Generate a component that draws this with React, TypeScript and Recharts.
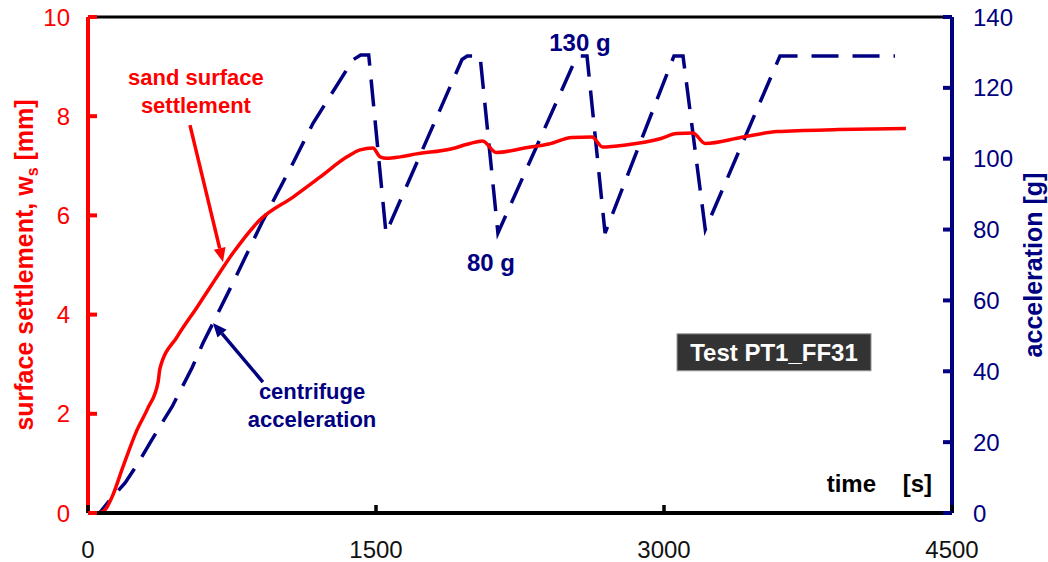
import React from "react";
import { LineChart, Line, XAxis, YAxis, ReferenceLine, ReferenceDot } from "recharts";

const RED = "#ff0000";
const NAVY = "#000080";
const FONT = "'Liberation Sans', Arial, Helvetica, sans-serif";

// axis ticks
const timeTicks = [0, 1500, 3000, 4500];
const settlementTicks = [0, 2, 4, 6, 8, 10];
const accelTicks = [0, 20, 40, 60, 80, 100, 120, 140];

// sand surface settlement, w_s [mm] vs time [s]
const settlementTime = [
  0, 60, 88, 125, 182, 255, 310, 365, 375, 464, 568, 661, 755, 896, 1068, 1208, 1349, 1417,
  1484, 1521, 1557, 1625, 1710, 1890, 1990, 2055, 2125, 2290, 2400, 2520, 2625, 2680, 2800,
  2985, 3065, 3150, 3215, 3400, 3590, 3910, 4260,
];
const settlementMm = [
  0, 0.01, 0.06, 0.32, 0.93, 1.67, 2.1, 2.64, 2.92, 3.55, 4.15, 4.7, 5.24, 5.91, 6.37, 6.77, 7.18, 7.32,
  7.36, 7.18, 7.15, 7.18, 7.24, 7.34, 7.45, 7.5, 7.27, 7.37, 7.44, 7.57, 7.58, 7.38, 7.42,
  7.55, 7.65, 7.66, 7.45, 7.57, 7.69, 7.73, 7.75,
];

// centrifuge acceleration [g] vs time [s]
const accelTime = [
  0, 60, 115, 193, 260, 323, 385, 438, 542, 599, 651, 750, 906, 1068, 1172, 1380, 1420, 1462,
  1552, 1948, 1975, 2042, 2135, 2542, 2560, 2599, 2693, 3052, 3099, 3215, 3604, 4203,
];
const accelG = [
  0, 0, 3.7, 8.5, 14, 19.8, 25.4, 30, 41, 48, 53.6, 64.4, 82, 98.8, 110, 127.9, 129.3, 129.3,
  79, 128, 129, 129, 79, 128.4, 129, 129, 79, 129, 129, 80, 129, 129,
];

const settlementData = settlementTime.map((t, i) => ({ t, w: settlementMm[i] }));
const accelData = accelTime.map((t, i) => ({ t, g: accelG[i] }));

function TimeTick(props: any) {
  const { x, y, payload } = props;
  return (
    <g>
      <line x1={x} x2={x} y1={y} y2={y - 8} stroke="#000" strokeWidth={3.5} />
      <text x={x} y={y + 45} textAnchor="middle" fontSize={24} fill="#111" fontFamily={FONT}>
        {payload.value}
      </text>
    </g>
  );
}

function LeftTick(props: any) {
  const { x, y, payload } = props;
  return (
    <g>
      <line x1={x} x2={x + 9} y1={y} y2={y} stroke={RED} strokeWidth={4} />
      <text x={x - 18} y={y + 8.5} textAnchor="end" fontSize={24} fill={RED} fontFamily={FONT}>
        {payload.value}
      </text>
    </g>
  );
}

function RightTick(props: any) {
  const { x, y, payload } = props;
  return (
    <g>
      <line x1={x} x2={x - 9} y1={y} y2={y} stroke={NAVY} strokeWidth={4} />
      <text x={x + 21} y={y + 8.5} textAnchor="start" fontSize={24} fill={NAVY} fontFamily={FONT}>
        {payload.value}
      </text>
    </g>
  );
}

function LeftTitle(props: any) {
  const vb = props.viewBox;
  const x = vb.x + vb.width - 55;
  const y = vb.y + vb.height / 2;
  return (
    <text
      transform={`translate(${x},${y}) rotate(-90)`}
      textAnchor="middle"
      fontSize={25}
      fontWeight="bold"
      fill={RED}
      fontFamily={FONT}
    >
      surface settlement, w
      <tspan fontSize={16} dy={5}>s</tspan>
      <tspan dy={-5}> [mm]</tspan>
    </text>
  );
}

function RightTitle(props: any) {
  const vb = props.viewBox;
  const x = vb.x + 90;
  const y = vb.y + vb.height / 2;
  return (
    <text
      transform={`translate(${x},${y}) rotate(-90)`}
      textAnchor="middle"
      fontSize={25}
      fontWeight="bold"
      fill={NAVY}
      fontFamily={FONT}
    >
      acceleration [g]
    </text>
  );
}

// text note drawn at a data point
function note(lines: string[], color: string, size: number, anchor = "middle", lineGap = 28) {
  return (props: any) => {
    const { cx, cy } = props;
    return (
      <g>
        {lines.map((s, i) => (
          <text
            key={i}
            x={cx}
            y={cy + i * lineGap}
            textAnchor={anchor}
            fontSize={size}
            fontWeight="bold"
            fill={color}
            fontFamily={FONT}
            style={{ whiteSpace: "pre" }}
          >
            {s}
          </text>
        ))}
      </g>
    );
  };
}

function testBox(props: any) {
  const { cx, cy } = props;
  return (
    <g>
      <rect x={cx - 97} y={cy - 18.5} width={194} height={37} fill="#333333" stroke="#999" strokeWidth={1} />
      <text x={cx} y={cy + 8.5} textAnchor="middle" fontSize={24} fontWeight="bold" fill="#fff" fontFamily={FONT}>
        Test PT1_FF31
      </text>
    </g>
  );
}

function arrow(color: string) {
  return (props: any) => {
    const { x1, y1, x2, y2 } = props;
    const a = Math.atan2(y2 - y1, x2 - x1);
    const L = 14;
    const W = 6;
    const bx = x2 - L * Math.cos(a);
    const by = y2 - L * Math.sin(a);
    const pts = [
      `${x2},${y2}`,
      `${bx + W * Math.sin(a)},${by - W * Math.cos(a)}`,
      `${bx - W * Math.sin(a)},${by + W * Math.cos(a)}`,
    ].join(" ");
    return (
      <g>
        <line x1={x1} y1={y1} x2={bx} y2={by} stroke={color} strokeWidth={3.5} />
        <polygon points={pts} fill={color} />
      </g>
    );
  };
}

export default function App() {
  return (
    <div style={{ position: "absolute", left: 0, top: 0, width: 1048, height: 562 }}>
      <LineChart
        width={1048}
        height={562}
        margin={{ top: 17, right: 0, bottom: 0, left: 0 }}
        style={{ fontFamily: FONT }}
      >
        <XAxis
          type="number"
          dataKey="t"
          domain={[0, 4500]}
          ticks={timeTicks}
          allowDataOverflow
          height={49}
          tickSize={0}
          tickMargin={0}
          tickLine={false}
          axisLine={{ stroke: "#000", strokeWidth: 4 }}
          tick={TimeTick}
        />
        <YAxis
          yAxisId="left"
          domain={[0, 10]}
          ticks={settlementTicks}
          allowDataOverflow
          width={88}
          tickSize={0}
          tickMargin={0}
          tickLine={false}
          axisLine={{ stroke: RED, strokeWidth: 4 }}
          tick={LeftTick}
          label={LeftTitle}
        />
        <YAxis
          yAxisId="right"
          orientation="right"
          domain={[0, 140]}
          ticks={accelTicks}
          allowDataOverflow
          width={96}
          tickSize={0}
          tickMargin={0}
          tickLine={false}
          axisLine={{ stroke: NAVY, strokeWidth: 4 }}
          tick={RightTick}
          label={RightTitle}
        />
        <ReferenceLine yAxisId="left" y={10} stroke="#000" strokeWidth={3} />
        <Line
          yAxisId="right"
          data={accelData}
          dataKey="g"
          type="linear"
          stroke={NAVY}
          strokeWidth={3.5}
          strokeDasharray="27 14"
          dot={false}
          activeDot={false}
          isAnimationActive={false}
        />
        <Line
          yAxisId="left"
          data={settlementData}
          dataKey="w"
          type="monotone"
          stroke={RED}
          strokeWidth={3.5}
          dot={false}
          activeDot={false}
          isAnimationActive={false}
        />
        <ReferenceLine
          yAxisId="left"
          segment={[{ x: 531, y: 7.82 }, { x: 703, y: 5.06 }]}
          shape={arrow(RED)}
        />
        <ReferenceLine
          yAxisId="left"
          segment={[{ x: 911, y: 2.64 }, { x: 651, y: 3.83 }]}
          shape={arrow(NAVY)}
        />
        <ReferenceDot yAxisId="left" x={562} y={8.63} r={0} shape={note(["sand surface", "settlement"], RED, 22)} />
        <ReferenceDot yAxisId="left" x={1167} y={2.3} r={0} shape={note(["centrifuge", "acceleration"], NAVY, 22)} />
        <ReferenceDot yAxisId="left" x={2562} y={9.31} r={0} shape={note(["130 g"], NAVY, 24)} />
        <ReferenceDot yAxisId="left" x={2099} y={4.88} r={0} shape={note(["80 g"], NAVY, 24)} />
        <ReferenceDot yAxisId="left" x={4396} y={0.42} r={0} shape={note(["time    [s]"], "#000", 24, "end")} />
        <ReferenceDot yAxisId="left" x={3573} y={3.24} r={0} shape={testBox} />
      </LineChart>
    </div>
  );
}
